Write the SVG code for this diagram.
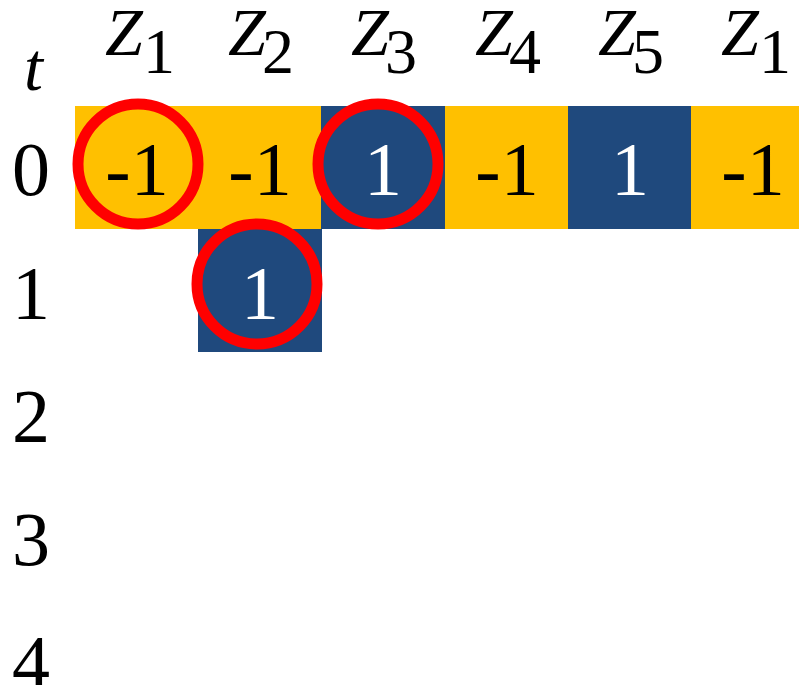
<svg xmlns="http://www.w3.org/2000/svg" width="799" height="685" viewBox="0 0 799 685">
<style>
text{font-family:"Liberation Serif","Times New Roman",serif;}
.num{font-size:76px;text-anchor:middle;}
.lbl{font-size:76px;text-anchor:middle;fill:#000;}
.z{font-size:68px;font-style:italic;}
.sub{font-size:64px;font-style:normal;}
.y{fill:#FFC000;}
.b{fill:#1F497D;}
.wt{fill:#FFFFFF;}
.bt{fill:#000000;}
.ring{fill:none;stroke:#FF0000;stroke-width:11;}
</style>
<rect width="799" height="685" fill="#FFFFFF"/>
<g id="header">
<text class="z" x="24" y="90">t</text>
<text class="z" x="105" y="55">Z<tspan class="sub" x="143" y="73">1</tspan></text>
<text class="z" x="228" y="55">Z<tspan class="sub" x="262" y="73">2</tspan></text>
<text class="z" x="351" y="55">Z<tspan class="sub" x="385" y="73">3</tspan></text>
<text class="z" x="475" y="55">Z<tspan class="sub" x="509" y="73">4</tspan></text>
<text class="z" x="598" y="55">Z<tspan class="sub" x="632" y="73">5</tspan></text>
<text class="z" x="721" y="55">Z<tspan class="sub" x="759" y="73">1</tspan></text>
</g>
<g id="rows">
<text class="lbl" x="31" y="195">0</text>
<text class="lbl" x="31" y="319">1</text>
<text class="lbl" x="31" y="442">2</text>
<text class="lbl" x="31" y="565">3</text>
<text class="lbl" x="31" y="688">4</text>
</g>
<g id="c0-1"><rect class="y" x="75" y="106" width="123.5" height="123"/><text class="num bt" x="137" y="195">-1</text></g>
<g id="c0-2"><rect class="y" x="198" y="106" width="123.5" height="123"/><text class="num bt" x="260" y="195">-1</text></g>
<g id="c0-3"><rect class="b" x="321" y="106" width="124" height="123"/><text class="num wt" x="383" y="195">1</text></g>
<g id="c0-4"><rect class="y" x="445" y="106" width="123.5" height="123"/><text class="num bt" x="507" y="195">-1</text></g>
<g id="c0-5"><rect class="b" x="568" y="106" width="123.5" height="123"/><text class="num wt" x="630" y="195">1</text></g>
<g id="c0-6"><rect class="y" x="691" y="106" width="108" height="123"/><text class="num bt" x="753" y="195">-1</text></g>
<g id="c1-2"><rect class="b" x="198" y="229" width="124" height="123"/><text class="num wt" x="260" y="319">1</text></g>
<g id="markers">
<circle class="ring" cx="138" cy="164" r="60"/>
<circle class="ring" cx="378" cy="164" r="60"/>
<circle class="ring" cx="257" cy="284" r="60"/>
</g>
</svg>
